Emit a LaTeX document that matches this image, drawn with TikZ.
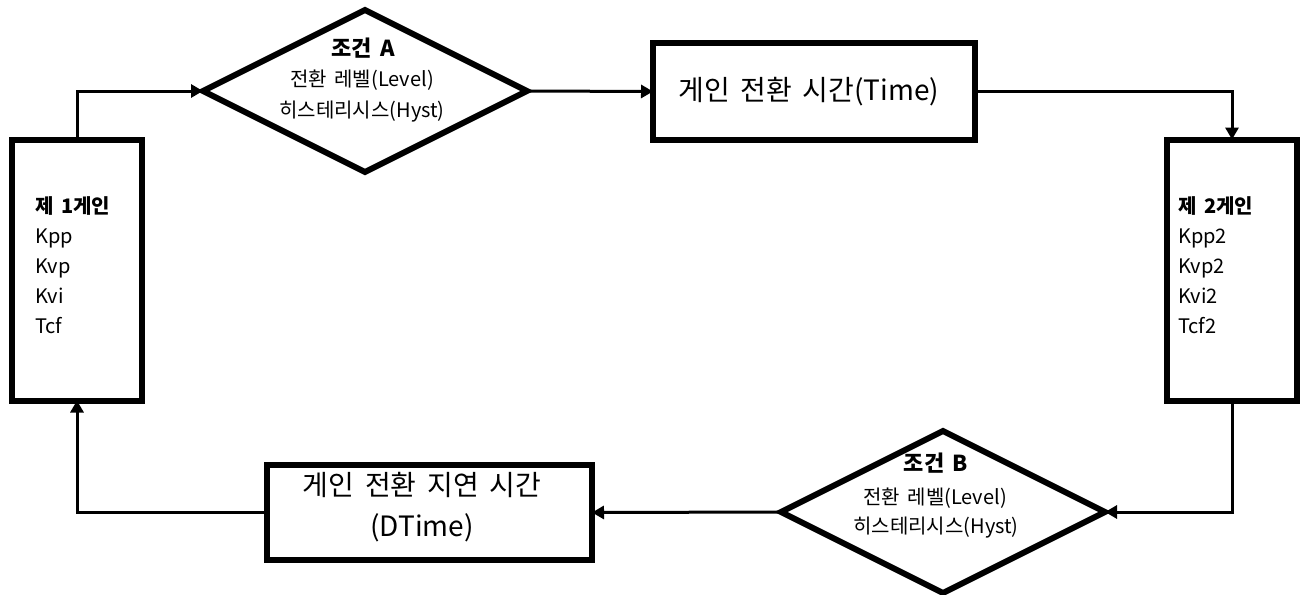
\documentclass[tikz,border=0pt]{standalone}
\usepackage{fontspec}
\setmainfont[WordSpace=1.7]{Noto Sans CJK KR}
\usetikzlibrary{shapes.geometric,arrows.meta}
\begin{document}
\begin{tikzpicture}[x=1pt,y=-1pt,
  box/.style={draw,line width=6pt,inner sep=0pt,outer sep=0pt},
  dia/.style={draw,diamond,line width=6pt,inner sep=0pt,outer sep=0pt,minimum width=324pt,minimum height=162pt},
  conn/.style={line width=3pt,-{Triangle[length=12pt,width=13pt]}},
  dtxt/.style={font=\fontsize{20}{24}\selectfont,inner sep=0pt},
  dhead/.style={font=\fontsize{22}{26}\selectfont\bfseries,inner sep=0pt},
  btxt/.style={font=\fontsize{28}{41}\selectfont,inner sep=0pt,align=center},
  gtxt/.style={font=\fontsize{20}{30}\selectfont,inner sep=0pt,align=left}]
\useasboundingbox (0,0) rectangle (1303,594);
% boxes
\node[box,minimum width=130pt,minimum height=261pt] (g1) at (77,270) {};
\node[box,minimum width=130pt,minimum height=261pt] (g2) at (1232,270) {};
\node[box,minimum width=322pt,minimum height=97pt] (time) at (814,91.5) {};
\node[box,minimum width=325pt,minimum height=95pt] (dtime) at (429.5,512.5) {};
\node[dia] (dA) at (365,91) {};
\node[dia] (dB) at (943,512) {};
% texts
\node[gtxt,anchor=west] (g1t) at (35,265) {\textbf{제 1게인}\\Kpp\\Kvp\\Kvi\\Tcf};
\node[gtxt,anchor=west] (g2t) at (1178,265) {\textbf{제 2게인}\\Kpp2\\Kvp2\\Kvi2\\Tcf2};
\node[btxt] (timet) at (809,92) {게인 전환 시간(Time)};
\node[btxt] (dtimet) at (422,507) {게인 전환 지연 시간\\(DTime)};
\node[dhead] (dAh) at (363,48) {조건 A};
\node[dtxt] (dAl) at (362,80) {전환 레벨(Level)};
\node[dtxt] (dAy) at (362,112) {히스테리시스(Hyst)};
\node[dhead] (dBh) at (936,463) {조건 B};
\node[dtxt] (dBl) at (935,498) {전환 레벨(Level)};
\node[dtxt] (dBy) at (936,528) {히스테리시스(Hyst)};
% connectors
\draw[conn] (g1.north) |- (dA.west);
\draw[conn] (dA.east) -- (time.west);
\draw[conn] (time.east) -| (g2.north);
\draw[conn] (g2.south) |- (dB.east);
\draw[conn] (dB.west) -- (dtime.east);
\draw[conn] (dtime.west) -| (g1.south);
\end{tikzpicture}
\end{document}
